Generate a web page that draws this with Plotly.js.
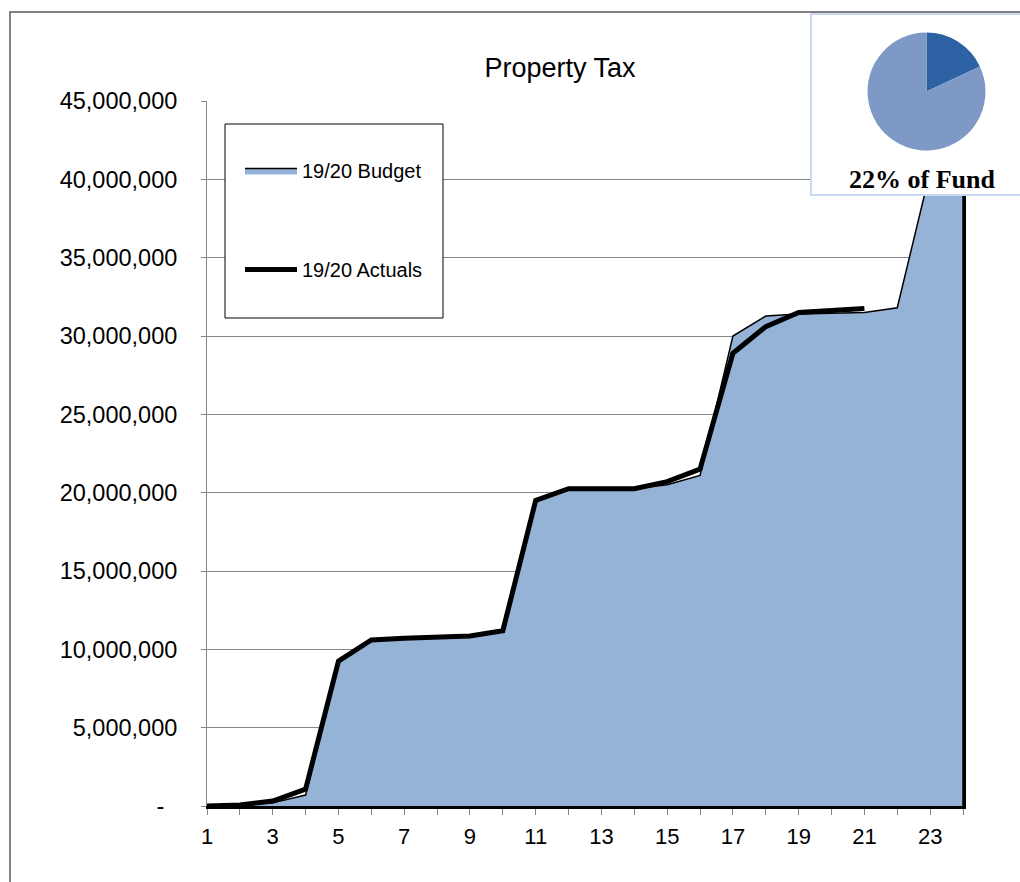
<!DOCTYPE html>
<html>
<head>
<meta charset="utf-8">
<script src="https://cdn.plot.ly/plotly-3.0.1.min.js"></script>
<style>
html, body { margin: 0; padding: 0; background: #ffffff; }
#chart { width: 1020px; height: 882px; }
</style>
</head>
<body>
<div id="chart"></div>
<script>
// ---- data ----
const periods = [1, 2, 3, 4, 5, 6, 7, 8, 9, 10, 11, 12, 13, 14, 15, 16, 17, 18, 19, 20, 21, 22, 23, 24];
const budget = [0, 60000, 200000, 700000, 9250000, 10600000, 10700000, 10750000, 10850000, 11190000,
                19500000, 20250000, 20250000, 20250000, 20500000, 21100000, 30000000, 31270000,
                31400000, 31450000, 31500000, 31800000, 40500000, 45500000];
const actuals = [0, 60000, 320000, 1080000, 9250000, 10600000, 10700000, 10750000, 10850000, 11190000,
                 19500000, 20250000, 20250000, 20250000, 20700000, 21500000, 28900000, 30600000,
                 31500000, 31660000, 31760000];
const seriesNames = ['19/20 Budget', '19/20 Actuals'];
const xTickVals = [1, 3, 5, 7, 9, 11, 13, 15, 17, 19, 21, 23];
const yTickVals = [0, 5000000, 10000000, 15000000, 20000000, 25000000, 30000000, 35000000, 40000000, 45000000];
const yTickText = ['-\u00a0\u00a0', '5,000,000', '10,000,000', '15,000,000', '20,000,000', '25,000,000',
                   '30,000,000', '35,000,000', '40,000,000', '45,000,000'];
const fundLabels = ['Property Tax', 'Other Revenue'];
const fundValues = [18, 82];
const fundCaption = '22% of Fund';
const chartTitle = 'Property Tax';

// ---- geometry helpers (pixel layout of the reference) ----
const W = 1020, H = 882;
const L = 207, T = 0, R = 0, B = 76;
const plotW = W - L - R, plotH = H - T - B;      // 813 x 806
const px = x => (x - L) / plotW;                   // pixel -> paper x
const py = y => (H - B - y) / plotH;               // pixel -> paper y

const lastX = periods[periods.length - 1];
const yRange = [0, 45000000];

const traces = [
  // keeps the main (gridline / tick) subplot alive
  { type: 'scatter', mode: 'lines', x: [], y: [], showlegend: false, hoverinfo: 'skip' },
  {
    type: 'scatter', mode: 'lines', name: seriesNames[0], yaxis: 'y3',
    x: periods.concat([lastX]), y: budget.concat([0]),
    fill: 'tozeroy', fillcolor: '#95B3D7',
    line: { color: '#000000', width: 1.5 },
    legendgroup: 'b', hoverinfo: 'x+y'
  },
  {
    type: 'scatter', mode: 'lines', name: seriesNames[1], yaxis: 'y3',
    x: periods.slice(0, actuals.length), y: actuals,
    line: { color: '#000000', width: 5 },
    legendgroup: 'a', hoverinfo: 'x+y'
  },
  {
    type: 'scatter', mode: 'lines', x: [], y: [], xaxis: 'x2', yaxis: 'y2',
    showlegend: false, hoverinfo: 'skip'
  },
  {
    type: 'pie', labels: fundLabels, values: fundValues,
    sort: false, direction: 'clockwise', rotation: 0,
    marker: { colors: ['#2C62A3', '#7F99C6'], line: { width: 0 } },
    textinfo: 'none', hoverinfo: 'label+percent', showlegend: false,
    domain: { x: [px(867.5), px(985.5)], y: [py(150.5), py(32.5)] }
  }
];

const gridColor = '#868686';

const layout = {
  width: W, height: H,
  margin: { l: L, r: R, t: T, b: B, pad: 0 },
  paper_bgcolor: '#ffffff', plot_bgcolor: '#ffffff',
  font: { family: 'Arial, "Liberation Sans", sans-serif', color: '#000000' },
  title: {
    text: chartTitle, xref: 'container', yref: 'container',
    x: 560 / W, xanchor: 'center', y: 1 - 68 / H, yanchor: 'middle',
    font: { size: 27, family: 'Arial, "Liberation Sans", sans-serif', color: '#000000' }
  },
  showlegend: true,
  legend: {
    x: px(240), y: py(151), xanchor: 'left', yanchor: 'top',
    bgcolor: 'rgba(0,0,0,0)', borderwidth: 0,
    font: { size: 20, family: 'Arial, "Liberation Sans", sans-serif', color: '#000000' },
    tracegroupgap: 70, itemwidth: 52, traceorder: 'grouped'
  },
  xaxis: {
    domain: [0, (963 - L) / plotW],
    range: [1, lastX], type: 'linear',
    tickvals: xTickVals,
    ticks: 'outside', ticklen: 6, tickwidth: 1, tickcolor: gridColor,
    minor: { dtick: 1, tick0: 1, ticks: 'outside', ticklen: 6, tickwidth: 1, tickcolor: gridColor, showgrid: false },
    showline: true, linecolor: '#000000', linewidth: 3,
    showgrid: false, zeroline: false,
    tickfont: { size: 22, color: '#000000' },
    ticklabelstandoff: 3,
    fixedrange: true
  },
  yaxis: {
    domain: [0, (806 - 101) / plotH],
    range: yRange,
    tickvals: yTickVals, ticktext: yTickText,
    ticks: 'outside', ticklen: 5, tickwidth: 1, tickcolor: gridColor,
    showline: true, linecolor: gridColor, linewidth: 1,
    showgrid: true, gridcolor: gridColor, gridwidth: 1,
    zeroline: false,
    tickfont: { size: 23.5, color: '#000000' },
    ticklabelstandoff: 19,
    fixedrange: true
  },
  // value axis of the two series; its line is the right-hand edge of the area
  yaxis3: {
    overlaying: 'y', side: 'right', anchor: 'x', range: yRange,
    showline: true, linecolor: '#000000', linewidth: 2.5,
    showgrid: false, zeroline: false, showticklabels: false, ticks: '',
    fixedrange: true
  },
  xaxis2: { domain: [px(811), 1], range: [0, 1], anchor: 'y2', visible: false, fixedrange: true },
  yaxis2: { domain: [py(195), py(14)], range: [0, 1], anchor: 'x2', visible: false, fixedrange: true },
  shapes: [
    // white panel of the pie inset (covers the chart below it, sits under the pie)
    { type: 'rect', xref: 'x2', yref: 'y2', x0: 0, x1: 1, y0: 0, y1: 1,
      fillcolor: '#ffffff', line: { width: 0 }, layer: 'below' },
    // inset border
    { type: 'rect', xref: 'paper', yref: 'paper', x0: px(811), x1: px(1030), y0: py(195), y1: py(14),
      fillcolor: 'rgba(0,0,0,0)', line: { color: '#C9DAF0', width: 2 }, layer: 'above' },
    // legend box
    { type: 'rect', xref: 'paper', yref: 'paper', x0: px(225), x1: px(443), y0: py(318), y1: py(124),
      fillcolor: '#ffffff', line: { color: '#000000', width: 1 }, layer: 'above' },
    // outer chart border
    { type: 'rect', xref: 'paper', yref: 'paper', x0: px(10), x1: px(1040), y0: py(900), y1: py(12),
      fillcolor: 'rgba(0,0,0,0)', line: { color: '#595959', width: 1.5 }, layer: 'above' }
  ],
  annotations: [
    { text: fundCaption, xref: 'paper', yref: 'paper', x: px(922), y: py(179),
      xanchor: 'center', yanchor: 'middle', showarrow: false,
      font: { family: '"Times New Roman", "Liberation Serif", serif', size: 26, weight: 'bold', color: '#000000' } }
  ]
};

Plotly.newPlot('chart', traces, layout, { displayModeBar: false, staticPlot: true });
</script>
</body>
</html>
